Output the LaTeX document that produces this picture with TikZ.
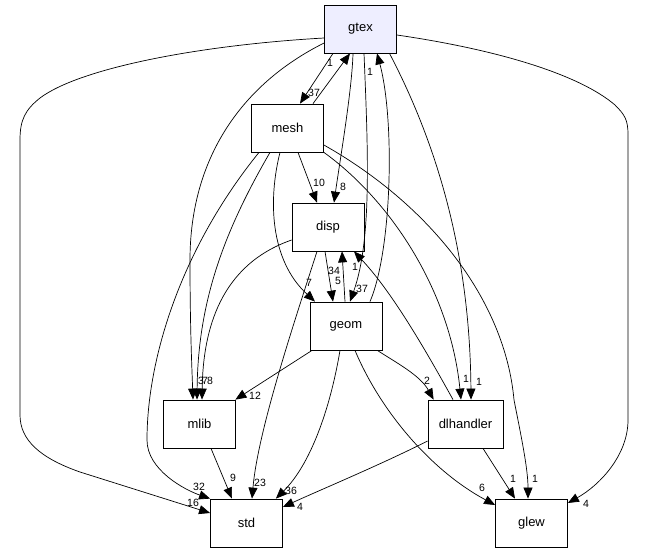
\documentclass[tikz,border=0pt]{standalone}
\usepackage{fontspec}
\setmainfont{Liberation Sans}
\usetikzlibrary{arrows.meta}
\definecolor{gtexfill}{RGB}{238,238,255}
\tikzset{
  dirbox/.style={draw, line width=0.8pt, minimum width=72pt, minimum height=48pt, inner sep=0pt, font=\fontsize{13}{15}\selectfont},
  dep/.style={line width=0.7pt, -{Triangle[length=11pt,width=9pt]}},
  lbl/.style={inner sep=0pt, font=\fontsize{10.5}{12}\selectfont}
}
\begin{document}
\begin{tikzpicture}[x=1pt, y=-1pt]
        \useasboundingbox (0,0) rectangle (647,552);

        \node[dirbox, fill=gtexfill] (gtex) at (360.5,29) {gtex};
        \node[dirbox] (mesh) at (287.5,128) {mesh};
        \node[dirbox] (disp) at (328,227) {disp};
        \node[dirbox] (geom) at (346,326) {geom};
        \node[dirbox] (mlib) at (199.5,424) {mlib};
        \node[dirbox, minimum width=75pt] (dlhandler) at (465.5,424) {dlhandler};
        \node[dirbox] (std) at (246.5,523) {std};
        \node[dirbox] (glew) at (531.5,523) {glew};

        \draw[dep] ([xshift=-27.5pt]gtex.south) -- ([xshift=12.5pt]mesh.north);
        \draw[dep] ([xshift=25.5pt]mesh.north) -- ([xshift=-10.5pt]gtex.south);
        \draw[dep] ([xshift=-7.5pt]gtex.south) .. controls (352,90) and (340,160) .. ([xshift=6pt]disp.north);
        \draw[dep] ([xshift=3.5pt]gtex.south) .. controls (368,150) and (372,240) .. ([xshift=4pt]geom.north);
        \draw[dep] ([xshift=24pt]geom.north) .. controls (392,250) and (395,120) .. ([xshift=16.5pt]gtex.south);
        \draw[dep] ([yshift=-14pt]gtex.west) .. controls (240,85) and (190,160) .. (190,260) .. controls (190,330) and (192,370) .. ([xshift=-6.5pt]mlib.north);
        \draw[dep] ([yshift=-9pt]gtex.west) .. controls (200,45) and (80,68) .. (40,98) .. controls (25,110) and (20,120) .. (20,140) -- (20,415) .. controls (20,440) and (40,458) .. (80,472) -- ([yshift=10pt]std.west);
        \draw[dep] ([yshift=-6pt]gtex.east) .. controls (500,50) and (580,75) .. (615,105) .. controls (625,115) and (628,120) .. (628,135) -- (628,420) .. controls (628,455) and (600,485) .. ([yshift=20pt]glew.east);
        \draw[dep] ([xshift=29pt]gtex.south) .. controls (440,150) and (470,260) .. ([xshift=5.5pt]dlhandler.north);

        \draw[dep] ([xshift=10.5pt]mesh.south) -- ([xshift=-11pt]disp.north);
        \draw[dep] ([xshift=-7.5pt]mesh.south) .. controls (268,200) and (270,260) .. ([xshift=-31pt]geom.north);
        \draw[dep] ([xshift=-17.5pt]mesh.south) .. controls (225,230) and (198,300) .. ([xshift=-2.5pt]mlib.north);
        \draw[dep] ([xshift=-28.5pt]mesh.south) .. controls (180,250) and (147,360) .. (147,440) .. controls (147,470) and (185,490) .. (std.north west);
        \draw[dep] (mesh.south east) .. controls (390,200) and (450,290) .. ([xshift=-4.5pt]dlhandler.north);
        \draw[dep] ([yshift=-17pt]mesh.east) .. controls (430,205) and (505,300) .. (514,400) .. controls (522,440) and (528,470) .. ([xshift=-3.5pt]glew.north);

        \draw[dep] ([xshift=-3pt]disp.south) -- ([xshift=-13pt]geom.north);
        \draw[dep] ([xshift=-1pt]geom.north) -- ([xshift=14pt]disp.south);
        \draw[dep] ([yshift=-13pt]disp.west) .. controls (220,265) and (203,330) .. ([xshift=2.5pt]mlib.north);
        \draw[dep] ([xshift=-11pt]disp.south) .. controls (295,320) and (258,430) .. ([xshift=5.5pt]std.north);

        \draw[dep] ([xshift=-34pt]geom.south) -- ([xshift=-0.5pt]mlib.north east);
        \draw[dep] ([xshift=-6pt]geom.south) .. controls (330,410) and (310,465) .. ([xshift=-7pt]std.north east);
        \draw[dep] ([xshift=9pt]geom.south) .. controls (380,410) and (430,470) .. ([yshift=18pt]glew.west);
        \draw[dep] ([xshift=-5pt]geom.south east) .. controls (395,362) and (420,375) .. ([xshift=6pt]dlhandler.north west);

        \draw[dep] ([xshift=11.5pt]mlib.south) -- ([xshift=-14.5pt]std.north);
        \draw[dep] ([xshift=-12.5pt]dlhandler.north) .. controls (420,340) and (390,290) .. ([xshift=26pt]disp.south);
        \draw[dep] ([yshift=-17pt]dlhandler.west) .. controls (380,465) and (320,490) .. ([yshift=16pt]std.east);
        \draw[dep] ([xshift=17.5pt]dlhandler.south) -- ([xshift=-16.5pt]glew.north);

        \node[lbl] (l37a) at (314,93) {37};
        \node[lbl] (l1a) at (330,63) {1};
        \node[lbl] (l1b) at (370,72) {1};
        \node[lbl] (l10) at (319,183) {10};
        \node[lbl] (l8) at (343,187) {8};
        \node[lbl] (l34) at (334,271) {34};
        \node[lbl] (l5) at (338,281) {5};
        \node[lbl] (l1c) at (355,267) {1};
        \node[lbl] (l37b) at (362,289) {37};
        \node[lbl] (l7) at (309,283) {7};
        \node[lbl] (l3m) at (201,381) {3};
        \node[lbl] (l7m) at (205,381) {7};
        \node[lbl] (l8m) at (210,381) {8};
        \node[lbl] (l12) at (255,396) {12};
        \node[lbl] (l2) at (427,381) {2};
        \node[lbl] (l1d) at (466,379) {1};
        \node[lbl] (l1e) at (479,382) {1};
        \node[lbl] (l32) at (199,487) {32};
        \node[lbl] (l16) at (193,503) {16};
        \node[lbl] (l9) at (233,478) {9};
        \node[lbl] (l23) at (260,483) {23};
        \node[lbl] (l36) at (291,491) {36};
        \node[lbl] (l4a) at (300,507) {4};
        \node[lbl] (l6) at (482,488) {6};
        \node[lbl] (l1f) at (513,479) {1};
        \node[lbl] (l1g) at (535,479) {1};
        \node[lbl] (l4b) at (586,504) {4};
\end{tikzpicture}
\end{document}
